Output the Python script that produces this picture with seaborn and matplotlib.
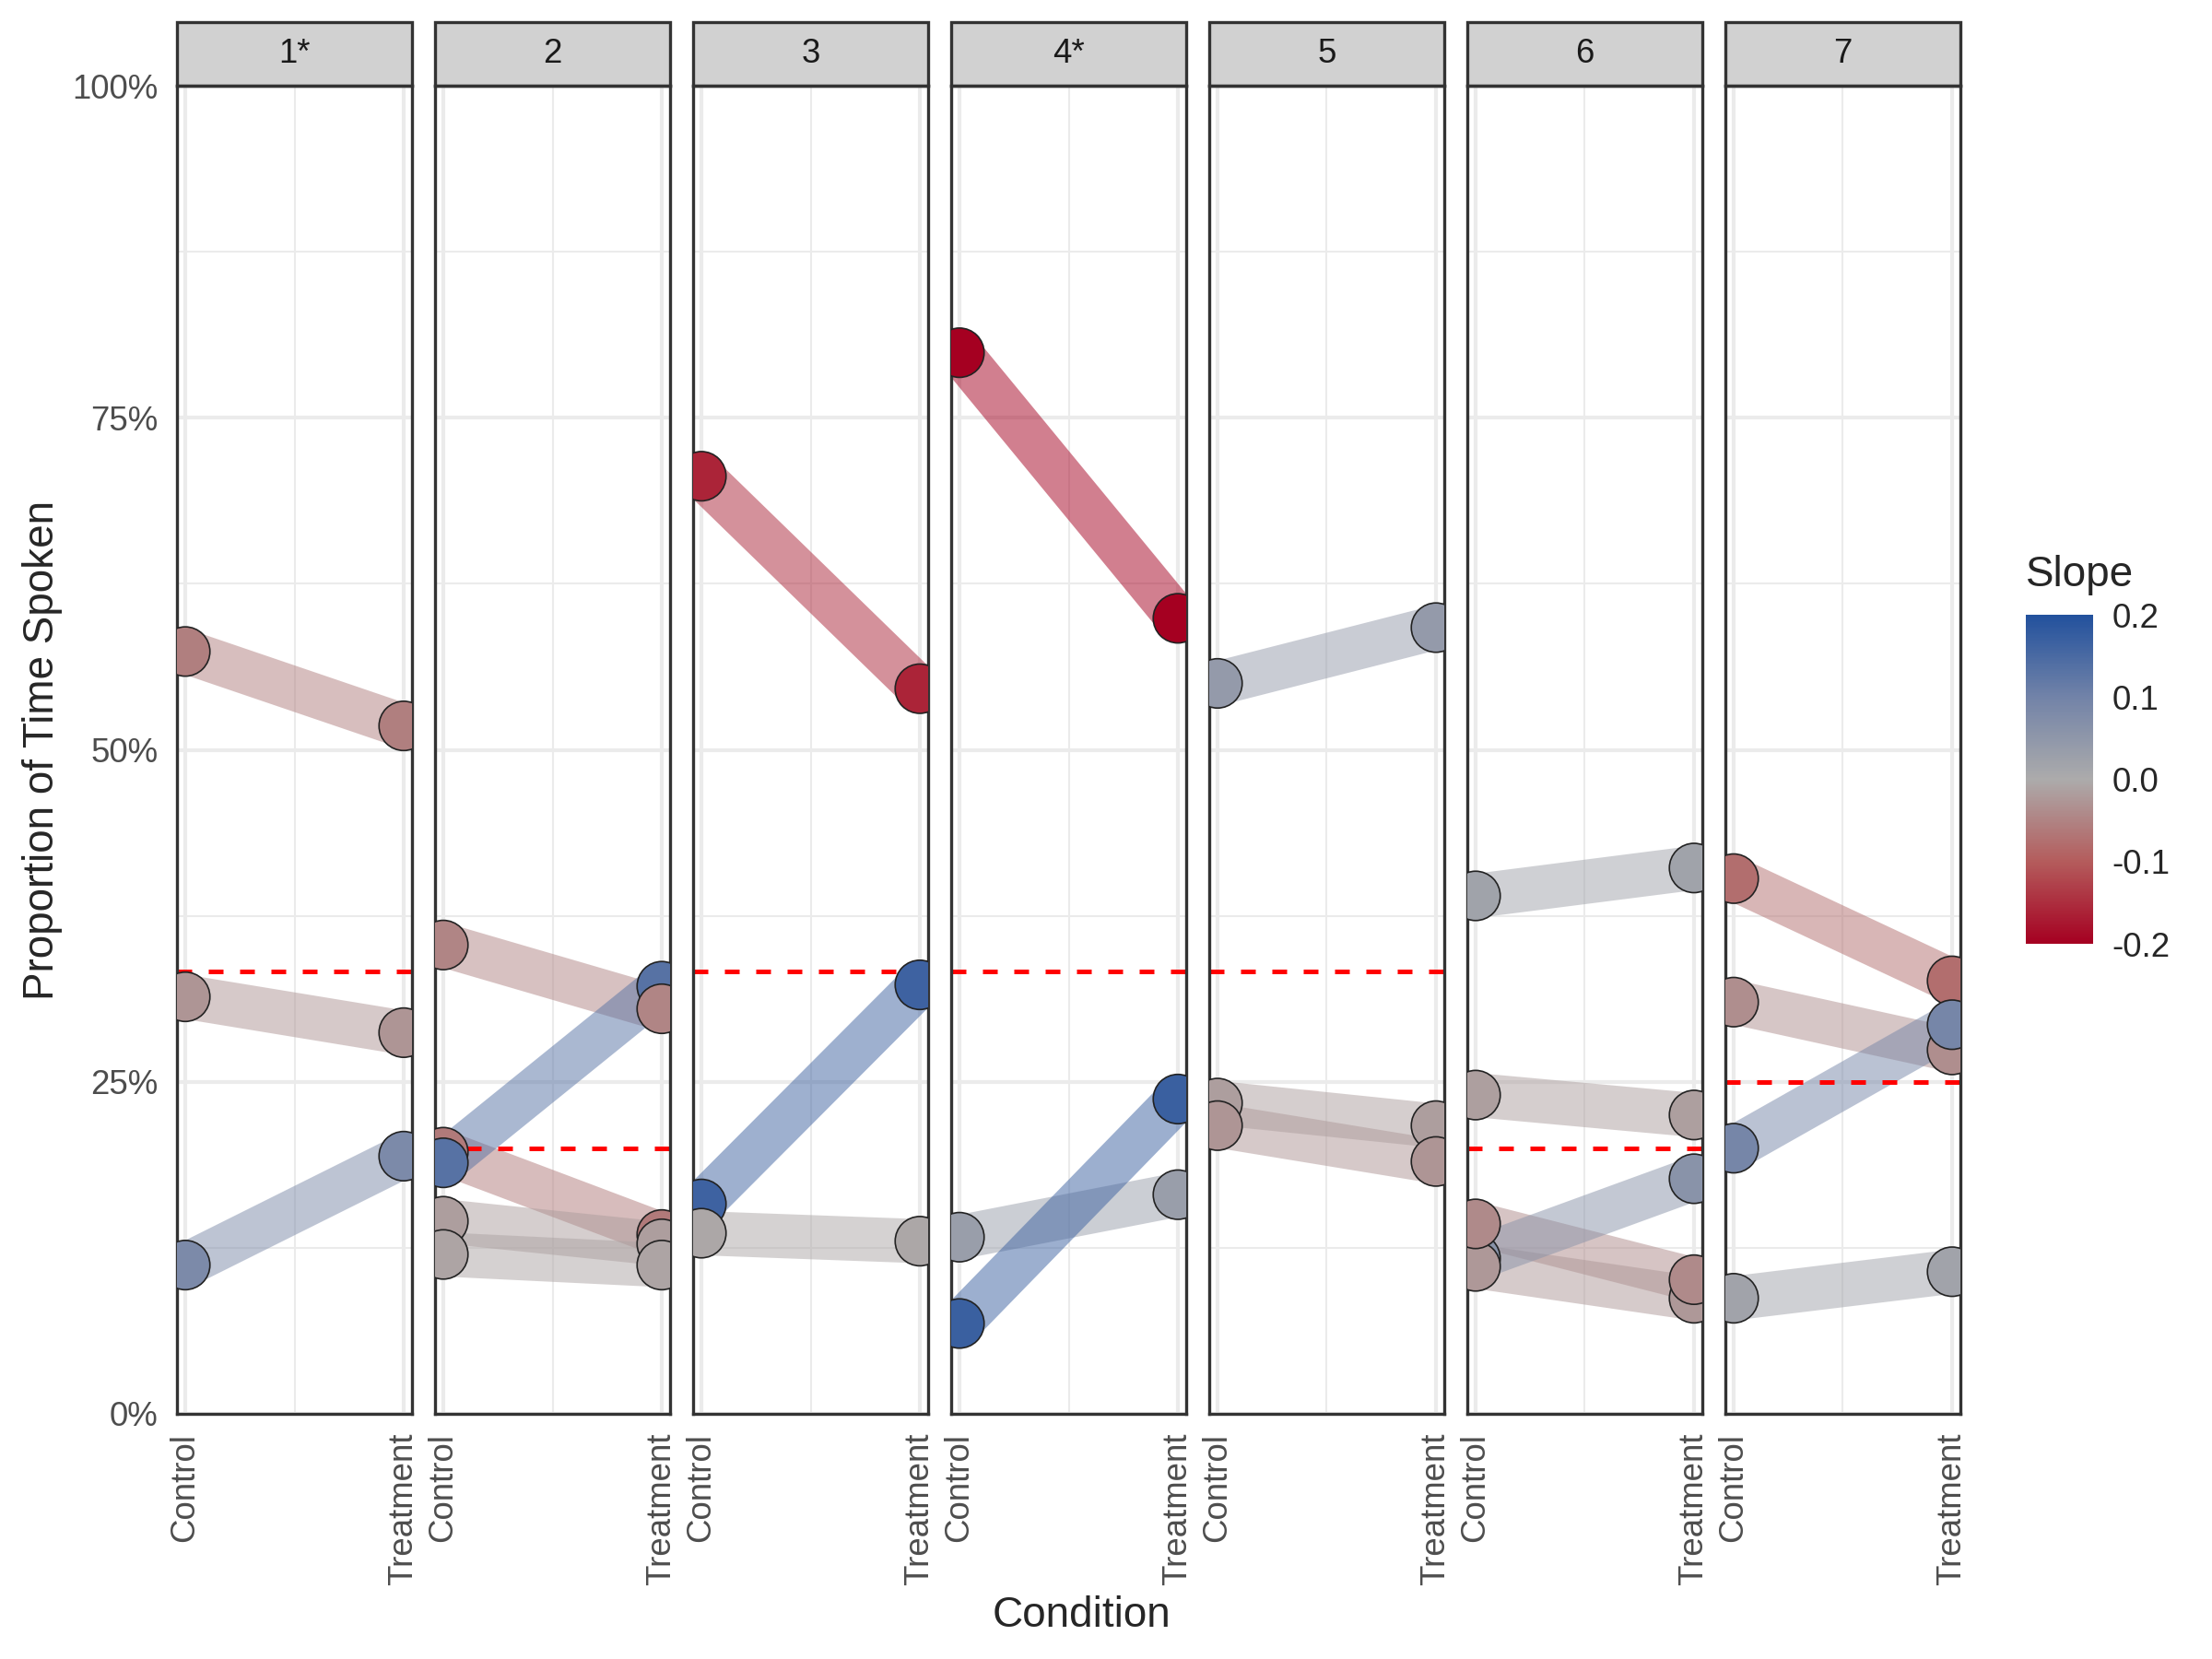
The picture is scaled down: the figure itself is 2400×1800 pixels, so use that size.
import numpy as np
import pandas as pd
import matplotlib
matplotlib.use("Agg")
import matplotlib.pyplot as plt
import seaborn as sns
from matplotlib.colors import LinearSegmentedColormap, Normalize
from matplotlib.cm import ScalarMappable
from matplotlib.patches import Rectangle

# Data: share of speaking time per speaker
groups = ["1*", "2", "3", "4*", "5", "6", "7"]
control = [
    [0.574, 0.314, 0.112],
    [0.197, 0.189, 0.353, 0.145, 0.120],
    [0.706, 0.158, 0.136],
    [0.799, 0.068, 0.133],
    [0.550, 0.234, 0.217],
    [0.390, 0.240, 0.117, 0.111, 0.143],
    [0.403, 0.310, 0.200, 0.087],
]
treatment = [
    [0.518, 0.287, 0.194],
    [0.135, 0.322, 0.305, 0.128, 0.112],
    [0.546, 0.323, 0.130],
    [0.599, 0.237, 0.165],
    [0.592, 0.217, 0.190],
    [0.411, 0.225, 0.177, 0.087, 0.101],
    [0.326, 0.274, 0.293, 0.107],
]
conditions = ["Control", "Treatment"]

# Build long table
rows = []
for g, c_vals, t_vals in zip(groups, control, treatment):
    for i, (c, t) in enumerate(zip(c_vals, t_vals)):
        slope = t - c
        rows.append({"group": g, "speaker": i, "x": 1, "prop": c, "slope": slope})
        rows.append({"group": g, "speaker": i, "x": 2, "prop": t, "slope": slope})
df = pd.DataFrame(rows)

sns.set_style("white")
plt.rcParams["font.family"] = ["Liberation Sans", "DejaVu Sans"]

# Red - grey - blue gradient like scale_colour_gradient2
cmap = LinearSegmentedColormap.from_list(
    "slope",
    [(0.0, "#A50021"), (0.25, "#B45C5C"), (0.5, "#ACABAB"), (0.75, "#7283A8"), (1.0, "#22519D")],
)
norm = Normalize(vmin=-0.2, vmax=0.2)

fig, axes = plt.subplots(1, len(groups), figsize=(8, 6), dpi=300, sharey=True)
fig.subplots_adjust(left=0.08, right=0.88625, top=0.9483, bottom=0.1478, wspace=0.098)

strip_h = 69 / 1441
for ax, g in zip(axes, groups):
    sub = df[df["group"] == g]
    n_speakers = sub["speaker"].nunique()

    sns.lineplot(data=sub, x="x", y="prop", units="speaker", estimator=None,
                 hue="slope", palette=cmap, hue_norm=norm, linewidth=11.5,
                 alpha=0.5, legend=False, sort=False, solid_capstyle="butt",
                 ax=ax, zorder=2)
    ax.axhline(1 / n_speakers, color="red", lw=1.2, ls=(0, (3.2, 3.6)), zorder=2.5)
    sns.scatterplot(data=sub, x="x", y="prop", hue="slope", palette=cmap,
                    hue_norm=norm, s=165, edgecolor="#222222", linewidth=0.4,
                    legend=False, ax=ax, zorder=3)

    ax.set_xlim(0.962, 2.038)
    ax.set_ylim(0, 1)
    ax.set_xticks([1, 2])
    ax.set_xticks([1.5], minor=True)
    ax.set_xticklabels(conditions, rotation=90, fontsize=8.8, color="#4D4D4D")
    ax.set_yticks([0, 0.25, 0.5, 0.75, 1.0])
    ax.set_yticks([0.125, 0.375, 0.625, 0.875], minor=True)
    ax.set_yticklabels(["0%", "25%", "50%", "75%", "100%"], fontsize=8.8, color="#4D4D4D")
    ax.set_axisbelow(True)
    ax.grid(which="major", color="#EBEBEB", lw=1.0)
    ax.grid(which="minor", color="#EBEBEB", lw=0.5)
    ax.tick_params(which="minor", length=0)
    ax.tick_params(which="major", length=2.75, width=1.0, color="#333333", pad=2.2)
    ax.set_xlabel("")
    ax.set_ylabel("")
    for sp in ax.spines.values():
        sp.set_visible(True)
        sp.set_color("#333333")
        sp.set_linewidth(0.8)
    if ax is not axes[0]:
        ax.tick_params(axis="y", left=False, labelleft=False)

    # facet strip
    ax.add_patch(Rectangle((0, 1), 1, strip_h, transform=ax.transAxes, clip_on=False,
                           facecolor="#D1D1D1", edgecolor="#333333", lw=0.8))
    ax.text(0.5, 1 + strip_h / 2, g, transform=ax.transAxes, ha="center", va="center",
            fontsize=8.8, color="#1A1A1A")

fig.text(0.019, 0.548, "Proportion of Time Spoken", rotation=90, ha="center",
         va="center", fontsize=11)
fig.text(0.4889, 0.026, "Condition", ha="center", va="center", fontsize=11)

# Colour bar legend
cax = fig.add_axes([0.9158, 0.4311, 0.0304, 0.1983])
cb = fig.colorbar(ScalarMappable(norm=norm, cmap=cmap), cax=cax)
cb.outline.set_visible(False)
cb.set_ticks([-0.2, -0.1, 0.0, 0.1, 0.2])
cb.set_ticklabels(["-0.2", "-0.1", "0.0", "0.1", "0.2"])
cax.tick_params(direction="in", color="white", length=3.6, width=0.6, left=True,
                right=True, labelsize=8.8, pad=5)
fig.text(0.9158, 0.6533, "Slope", ha="left", va="center", fontsize=11)

plt.savefig("out.png", dpi=300)
